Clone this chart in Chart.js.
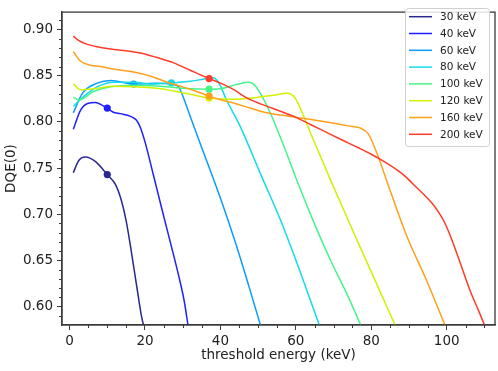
<!DOCTYPE html>
<html>
<head>
<meta charset="utf-8">
<script src="https://cdn.jsdelivr.net/npm/chart.js@4/dist/chart.umd.min.js"></script>
<style>
  html, body { margin:0; padding:0; background:#fff; }
</style>
</head>
<body>
<canvas id="c" width="498" height="371"></canvas>
<script>
// tube voltages and their line colours
const energies = ["30 keV","40 keV","60 keV","80 keV","100 keV","120 keV","160 keV","200 keV"];
const colors = ["#28288f","#1f1fff","#0a9cff","#12dcea","#45f58a","#d2f000","#ffa01a","#ff3c28"];
// threshold where the dot sits on each curve
const optThreshold = [10, 10, 17, 27, 37, 37, 37, 37];

const t30 = [1, 2.4, 4.2, 6.9, 10, 12.2, 13.8, 15.1, 16.4, 18.0, 19.1, 19.9];
const d30 = [0.745, 0.758, 0.762, 0.757, 0.743, 0.732, 0.714, 0.691, 0.659, 0.617, 0.589, 0.575];

const t40 = [1, 2.9, 4.8, 6.9, 8.7, 10, 11.6, 13.5, 16.2, 17.7, 18.8, 20.1, 22.2, 24.4, 26.7, 28.9, 30.4, 31.4];
const d40 = [0.792, 0.8126, 0.820, 0.821, 0.818, 0.815, 0.8105, 0.809, 0.806, 0.802, 0.7937, 0.777, 0.743, 0.707, 0.670, 0.634, 0.606, 0.58];

const t60 = [1, 3.4, 7.3, 10.9, 17, 23.2, 27.2, 28.9, 29.9, 32.0, 35.2, 37.9, 40.5, 44.0, 47.4, 50.6];
const d60 = [0.8098, 0.831, 0.842, 0.845, 0.841, 0.842, 0.8407, 0.838, 0.8295, 0.806, 0.7705, 0.741, 0.7116, 0.669, 0.624, 0.58];

const t80 = [1, 4.2, 7.3, 11.7, 17, 22.3, 27, 32, 35, 38, 39.5, 41.6, 45.3, 50.6, 55.9, 61.2, 66.2];
const d80 = [0.817, 0.829, 0.838, 0.843, 0.843, 0.841, 0.8424, 0.844, 0.846, 0.848, 0.843, 0.824, 0.7947, 0.744, 0.694, 0.637, 0.58];

const t100 = [1, 2.5, 6.4, 10.9, 17, 24.1, 32, 37, 40, 44.4, 47.5, 48.8, 50.6, 53.2, 56.7, 61.2, 65, 69.1, 73.5, 77.2];
const d100 = [0.8266, 0.824, 0.833, 0.838, 0.8397, 0.8386, 0.836, 0.8355, 0.836, 0.8407, 0.843, 0.841, 0.831, 0.81, 0.775, 0.727, 0.689, 0.651, 0.614, 0.58];

const t120 = [1, 2.9, 6.4, 11.7, 17, 24.1, 32, 37, 42.6, 49.7, 54.1, 57.6, 59.8, 62, 64, 66.5, 69.1, 74.9, 80.5, 86.3];
const d120 = [0.8414, 0.835, 0.836, 0.8386, 0.838, 0.836, 0.830, 0.826, 0.8245, 0.8266, 0.829, 0.831, 0.826, 0.807, 0.787, 0.763, 0.738, 0.684, 0.633, 0.58];

const t160 = [1, 2.9, 5, 8.2, 12, 17, 22, 25.9, 30, 33, 37, 40, 43.5, 47.9, 52.3, 58.5, 66.5, 73.5, 77, 79.2, 81.5, 85, 89.4, 94.7, 99.5];
const d160 = [0.876, 0.866, 0.862, 0.86, 0.857, 0.854, 0.849, 0.843, 0.838, 0.834, 0.828, 0.824, 0.8205, 0.815, 0.81, 0.806, 0.801, 0.796, 0.7935, 0.787, 0.766, 0.7256, 0.6765, 0.628, 0.58];

const t200 = [1, 2.5, 4.7, 8, 10.9, 15, 18.8, 23, 27.6, 32, 37, 40, 43.5, 47, 51, 55.9, 60, 64, 68, 72, 76.6, 80, 83, 86.8, 89, 92, 94.5, 96.5, 98.5, 99.5, 101.3, 103, 106.2, 108.5, 110];
const d200 = [0.893, 0.888, 0.884, 0.881, 0.879, 0.877, 0.8747, 0.870, 0.864, 0.856, 0.847, 0.842, 0.835, 0.826, 0.819, 0.8116, 0.805, 0.797, 0.789, 0.781, 0.772, 0.765, 0.758, 0.748, 0.741, 0.729, 0.719, 0.71, 0.698, 0.6905, 0.673, 0.654, 0.617, 0.595, 0.58];

const xTicks = [0, 20, 40, 60, 80, 100];
const xMinor = [5, 10, 15, 25, 30, 35, 45, 50, 55, 65, 70, 75, 85, 90, 95, 105, 110];
const yTicks = [0.60, 0.65, 0.70, 0.75, 0.80, 0.85, 0.90];
const yMinor = [0.59, 0.61, 0.62, 0.63, 0.64, 0.66, 0.67, 0.68, 0.69, 0.71, 0.72, 0.73, 0.74,
                0.76, 0.77, 0.78, 0.79, 0.81, 0.82, 0.83, 0.84, 0.86, 0.87, 0.88, 0.89, 0.91];

const xs = [t30, t40, t60, t80, t100, t120, t160, t200];
const ys = [d30, d40, d60, d80, d100, d120, d160, d200];

const FONT = "'DejaVu Sans', sans-serif";
const tickFont = { family: FONT, size: 13.5 };
const ink = "#222";
const spine = "#3a3a3a";

const datasets = energies.map((lab, i) => ({
  label: lab,
  data: xs[i].map((t, k) => ({ x: t, y: ys[i][k] })),
  borderColor: colors[i],
  backgroundColor: colors[i],
  borderWidth: 1.5,
  cubicInterpolationMode: "monotone",
  pointRadius: c => (c.raw && c.raw.x === optThreshold[i]) ? 3.6 : 0,
  pointBorderWidth: 0,
  order: energies.length - i
}));

const frame = {
  id: "frame",
  afterDraw(chart){
    const { ctx, chartArea: a, scales: { x, y } } = chart;
    ctx.save();
    ctx.strokeStyle = spine;
    ctx.lineWidth = 1;
    ctx.beginPath();
    xMinor.forEach(v => {
      const p = Math.round(x.getPixelForValue(v)) + 0.5;
      ctx.moveTo(p, a.bottom); ctx.lineTo(p, a.bottom + 3);
    });
    yMinor.forEach(v => {
      const p = Math.round(y.getPixelForValue(v)) + 0.5;
      ctx.moveTo(a.left, p); ctx.lineTo(a.left - 3, p);
    });
    ctx.stroke();
    ctx.lineWidth = 1.3;
    ctx.strokeRect(a.left, a.top, a.right - a.left, a.bottom - a.top);

    // legend box, upper right
    const lx = 405, ly = 8, lw = 84, lh = 138;
    ctx.fillStyle = "rgba(255,255,255,0.85)";
    ctx.strokeStyle = "#d0d0d0";
    ctx.lineWidth = 1;
    ctx.beginPath();
    ctx.roundRect(lx + 0.5, ly + 0.5, lw, lh, 3);
    ctx.fill(); ctx.stroke();
    ctx.font = "10.5px " + FONT;
    ctx.textBaseline = "middle";
    ctx.fillStyle = ink;
    energies.forEach((lab, i) => {
      const cy = 16.7 + i * 16.8;
      ctx.strokeStyle = colors[i];
      ctx.lineWidth = 1.5;
      ctx.beginPath();
      ctx.moveTo(409, cy); ctx.lineTo(432, cy);
      ctx.stroke();
      ctx.fillText(lab, 440, cy + 0.5);
    });
    ctx.restore();
  }
};

new Chart(document.getElementById("c"), {
  type: "line",
  data: { datasets },
  options: {
    responsive: false,
    animation: false,
    layout: { padding: { top: 3, right: 3, left: 0, bottom: 0 } },
    plugins: { legend: { display: false }, tooltip: { enabled: false } },
    scales: {
      x: {
        type: "linear",
        min: -2, max: 112.8,
        afterBuildTicks: s => { s.ticks = xTicks.map(v => ({ value: v })); },
        afterFit: s => { s.height = 46; },
        grid: { drawOnChartArea: false, tickLength: 5, color: spine },
        border: { color: spine, width: 1.3 },
        ticks: { font: tickFont, color: ink, padding: 3, maxRotation: 0, callback: v => String(v) },
        title: { display: true, text: "threshold energy (keV)", font: tickFont, color: ink, padding: { top: 0, bottom: 7 } }
      },
      y: {
        type: "linear",
        min: 0.58, max: 0.919,
        afterBuildTicks: s => { s.ticks = yTicks.map(v => ({ value: v })); },
        afterFit: s => { s.width = 62; },
        grid: { drawOnChartArea: false, tickLength: 5, color: spine },
        border: { color: spine, width: 1.3 },
        ticks: { font: tickFont, color: ink, padding: 4, callback: v => v.toFixed(2) },
        title: { display: true, text: "DQE(0)", font: tickFont, color: ink, padding: { top: 3, bottom: 0 } }
      }
    }
  },
  plugins: [frame]
});
</script>
</body>
</html>
